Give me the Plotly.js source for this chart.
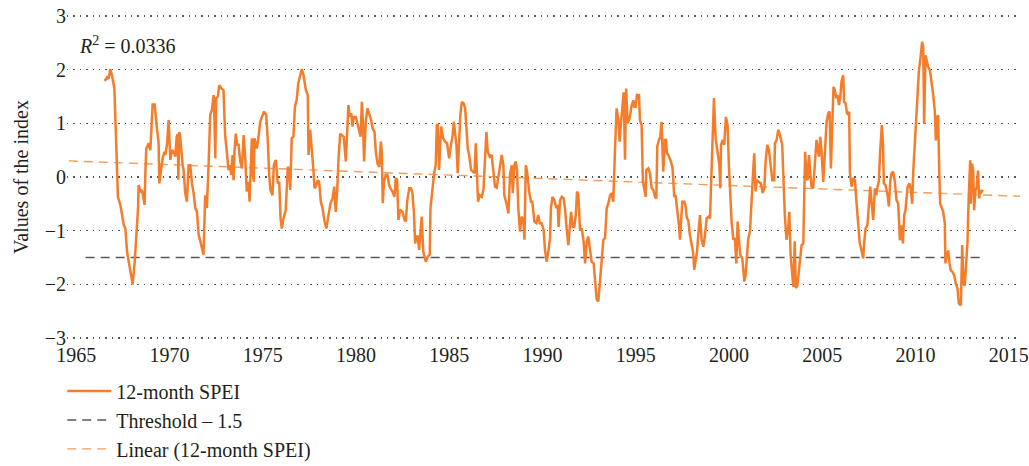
<!DOCTYPE html>
<html>
<head>
<meta charset="utf-8">
<script src="https://cdn.plot.ly/plotly-3.0.1.min.js"></script>
<style>html,body{margin:0;padding:0;background:#fff;}#chart{width:1029px;height:466px;}</style>
</head>
<body>
<div id="chart"></div>
<script>
// 12-month SPEI (decimal year, index value)
const speiYears = [
1966.52,1966.65,1966.73,1966.82,1966.91,1967.04,1967.13,1967.23,1967.36,1967.54,1967.63,1967.72,1967.81,1967.95,1968.02,1968.13,1968.25,1968.31,1968.34,1968.43,1968.52,1968.66,1968.70,1968.75,1968.88,1968.97,1969.09,1969.20,1969.32,1969.41,1969.45,1969.54,1969.63,1969.72,1969.77,1969.86,1969.95,1970.04,1970.13,1970.22,1970.31,1970.38,1970.44,1970.47,1970.52,1970.57,1970.63,1970.70,1970.75,1970.84,1970.93,1971.02,1971.11,1971.20,1971.29,1971.38,
1971.47,1971.56,1971.65,1971.73,1971.82,1971.91,1972.00,1972.09,1972.18,1972.27,1972.36,1972.41,1972.45,1972.50,1972.59,1972.66,1972.77,1972.89,1972.98,1973.07,1973.16,1973.25,1973.30,1973.38,1973.43,1973.48,1973.55,1973.63,1973.70,1973.79,1973.88,1973.97,1974.05,1974.14,1974.23,1974.29,1974.36,1974.41,1974.47,1974.52,1974.55,1974.68,1974.77,1974.86,1974.95,1975.07,1975.18,1975.27,1975.34,1975.41,1975.52,1975.59,1975.70,1975.77,1975.80,1975.88,1975.95,1976.02,1976.11,1976.23,1976.29,1976.34,1976.41,1976.47,1976.55,1976.64,1976.72,1976.82,1976.90,1977.00,
1977.09,1977.18,1977.31,1977.41,1977.45,1977.54,1977.63,1977.72,1977.77,1977.84,1977.95,1978.02,1978.11,1978.20,1978.31,1978.41,1978.52,1978.63,1978.74,1978.83,1978.91,1978.99,1979.06,1979.15,1979.24,1979.34,1979.45,1979.54,1979.59,1979.66,1979.74,1979.81,1979.88,1979.99,1980.09,1980.16,1980.24,1980.31,1980.36,1980.43,1980.52,1980.61,1980.70,1980.81,1980.88,1980.99,1981.06,1981.15,1981.24,1981.33,1981.38,1981.43,1981.50,1981.59,1981.68,1981.77,1981.84,1981.95,1982.06,1982.13,
1982.20,1982.27,1982.36,1982.49,1982.60,1982.67,1982.74,1982.85,1982.95,1983.02,1983.10,1983.17,1983.24,1983.31,1983.38,1983.45,1983.52,1983.60,1983.67,1983.74,1983.85,1983.95,1983.99,1984.06,1984.13,1984.20,1984.27,1984.33,1984.38,1984.45,1984.56,1984.67,1984.77,1984.88,1984.99,1985.09,1985.17,1985.24,1985.31,1985.38,1985.45,1985.52,1985.59,1985.67,1985.77,1985.85,1985.92,1985.99,1986.06,1986.17,1986.27,1986.35,1986.42,1986.49,1986.54,1986.63,1986.74,1986.83,1986.92,1986.99,1987.06,1987.17,1987.27,1987.36,1987.45,
1987.54,1987.63,1987.72,1987.81,1987.90,1987.95,1988.08,1988.17,1988.26,1988.35,1988.40,1988.49,1988.56,1988.63,1988.70,1988.79,1988.88,1988.97,1989.03,1989.10,1989.17,1989.28,1989.38,1989.45,1989.56,1989.67,1989.77,1989.85,1989.95,1990.06,1990.13,1990.22,1990.31,1990.40,1990.45,1990.53,1990.63,1990.74,1990.81,1990.86,1990.94,1991.03,1991.13,1991.20,1991.29,1991.38,1991.47,1991.53,1991.62,1991.70,1991.78,1991.85,1991.92,1992.01,1992.10,1992.20,1992.28,1992.37,1992.45,1992.54,1992.63,1992.74,1992.81,1992.90,1992.99,
1993.08,1993.17,1993.26,1993.35,1993.44,1993.53,1993.62,1993.71,1993.79,1993.88,1993.97,1994.06,1994.13,1994.21,1994.30,1994.35,1994.42,1994.48,1994.56,1994.67,1994.78,1994.87,1994.92,1994.99,1995.06,1995.17,1995.22,1995.31,1995.38,1995.46,1995.53,1995.56,1995.67,1995.76,1995.85,1995.94,1996.03,1996.10,1996.15,1996.24,1996.31,1996.38,1996.47,1996.56,1996.62,1996.67,1996.74,1996.85,1996.96,1997.01,1997.06,1997.13,1997.24,1997.31,1997.37,1997.42,1997.49,1997.60,1997.67,1997.74,1997.81,1997.90,1997.99,1998.08,1998.13,1998.21,1998.28,
1998.35,1998.44,1998.53,1998.62,1998.71,1998.80,1998.89,1998.98,1999.03,1999.10,1999.19,1999.28,1999.39,1999.48,1999.53,1999.57,1999.66,1999.74,1999.83,1999.92,1999.99,2000.07,2000.14,2000.23,2000.31,2000.39,2000.46,2000.53,2000.60,2000.71,2000.82,2000.89,2000.96,2001.03,2001.12,2001.21,2001.30,2001.35,2001.42,2001.49,2001.60,2001.71,2001.80,2001.89,2001.96,2002.05,2002.14,2002.23,2002.32,2002.42,2002.46,2002.55,2002.64,2002.73,2002.85,2002.92,2002.99,2003.08,2003.17,2003.23,2003.30,2003.39,2003.45,2003.52,2003.58,2003.66,2003.76,2003.89,2003.98,
2004.03,2004.08,2004.16,2004.21,2004.28,2004.35,2004.42,2004.51,2004.60,2004.69,2004.75,2004.82,2004.89,2004.96,2005.05,2005.14,2005.23,2005.32,2005.39,2005.46,2005.53,2005.60,2005.67,2005.75,2005.82,2005.89,2005.96,2006.03,2006.12,2006.17,2006.25,2006.32,2006.39,2006.44,2006.48,2006.57,2006.66,2006.75,2006.83,2006.92,2007.01,2007.10,2007.19,2007.25,2007.32,2007.42,2007.50,2007.57,2007.64,2007.73,2007.82,2007.89,2007.96,2008.03,2008.10,2008.19,2008.25,2008.30,2008.39,2008.50,2008.57,2008.64,2008.71,2008.80,2008.89,
2008.98,2009.07,2009.16,2009.25,2009.32,2009.39,2009.46,2009.57,2009.68,2009.75,2009.82,2009.87,2009.96,2010.05,2010.10,2010.18,2010.27,2010.35,2010.41,2010.46,2010.53,2010.60,2010.68,2010.77,2010.85,2010.94,2011.03,2011.09,2011.16,2011.21,2011.27,2011.32,2011.39,2011.48,2011.57,2011.60,2011.68,2011.75,2011.82,2011.89,2011.98,2012.07,2012.16,2012.25,2012.32,2012.43,2012.50,2012.57,2012.64,2012.71,2012.78,2012.85,2012.93,2012.96,2013.03,2013.09,2013.14,2013.21,2013.28,2013.35,2013.41,2013.46,2013.53,2013.60
];
const speiValues = [
1.79,1.86,1.83,2.01,1.90,1.65,0.72,-0.37,-0.52,-0.89,-0.96,-1.39,-1.58,-1.89,-2.00,-1.58,-1.02,-0.58,-0.15,-0.27,-0.24,-0.52,0.04,0.53,0.63,0.50,1.35,1.35,0.91,0.66,-0.12,0.16,0.35,0.47,0.41,0.60,1.06,0.32,0.50,0.47,0.38,0.75,0.80,-0.05,0.84,0.75,0.41,0.22,0.13,-0.30,-0.46,0.22,0.22,-0.12,-0.30,-0.58,
-0.65,-1.08,-1.20,-1.30,-1.45,-0.34,-0.58,0.22,1.16,1.25,1.53,1.03,0.35,1.47,1.50,1.71,1.65,1.62,0.78,0.47,0.13,0.22,0.04,0.41,-0.06,0.47,0.81,0.60,0.60,0.29,0.16,0.78,0.41,-0.27,-0.09,-0.46,0.41,0.72,0.04,-0.09,0.72,0.53,0.75,1.03,1.12,1.22,1.16,0.66,0.04,-0.24,-0.34,0.22,0.32,0.04,-0.12,-0.09,-0.77,-0.96,-0.77,-0.61,-0.15,0.19,0.13,-0.24,0.72,0.75,1.30,1.45,1.75,1.88,
2.01,1.90,1.62,1.53,0.41,0.88,0.53,0.10,-0.21,-0.18,-0.06,-0.09,-0.46,-0.58,-0.83,-0.96,-0.71,-0.49,-0.40,-0.18,-0.65,-0.24,0.35,0.81,0.78,0.75,0.29,1.00,1.34,1.12,1.19,0.94,1.12,1.12,0.97,0.88,0.75,1.40,1.09,0.29,1.03,1.28,1.19,1.06,0.91,0.84,0.47,0.25,0.19,0.66,0.47,-0.49,-0.09,0.04,0.04,-0.15,-0.21,-0.27,-0.37,-0.02,
-0.05,-0.80,-0.61,-0.65,-0.80,-0.83,-0.46,-0.21,-0.21,-0.30,-0.65,-1.24,-1.11,-1.11,-1.36,-1.08,-0.74,-1.39,-1.48,-1.58,-1.48,-1.45,-0.58,-0.40,-0.12,0.10,0.22,0.97,0.97,0.13,0.94,0.72,0.66,0.63,0.35,0.60,0.75,1.03,0.78,0.60,0.07,0.78,1.16,1.40,1.37,1.28,0.97,0.53,0.41,0.13,0.10,0.07,0.63,0.04,-0.46,-0.34,-0.37,-0.24,0.41,0.84,0.47,0.38,0.41,0.04,-0.18,
-0.20,0.01,0.22,0.41,0.22,-0.34,-0.52,-0.68,0.07,0.22,-0.30,0.22,0.29,0.13,-0.58,-1.02,-0.74,-0.83,-1.17,0.22,0.10,-0.27,-0.46,-0.46,-0.83,-0.86,-0.71,-0.86,-0.86,-0.99,-1.36,-1.58,-1.39,-1.14,-0.58,-0.37,-0.43,-0.58,-0.52,-0.93,-0.43,-0.37,-0.40,-0.58,-0.96,-1.27,-0.89,-0.65,-0.93,-0.93,-0.71,-0.27,-0.34,-0.99,-0.96,-1.20,-1.61,-1.20,-1.11,-1.39,-1.58,-1.61,-1.90,-2.28,-2.32,
-1.95,-1.58,-1.17,-1.14,-0.58,-0.49,-0.34,-0.30,-0.46,0.47,1.28,1.09,0.66,1.03,1.45,1.58,0.32,1.65,1.00,1.09,1.34,1.43,1.31,1.31,1.53,1.53,1.06,0.97,-0.09,-0.27,-0.37,0.13,0.16,0.07,-0.21,-0.24,-0.37,-0.40,0.57,0.69,0.75,1.03,0.10,0.69,0.69,0.44,0.41,0.32,0.19,-0.06,-0.37,-0.34,-0.65,-0.89,-1.17,-0.80,-0.46,-0.46,-0.55,-0.77,-0.80,-1.08,-1.24,-1.42,-1.73,-1.58,-1.40,
-1.08,-0.71,-1.17,-1.30,-1.08,-0.77,-0.74,-0.77,-0.21,0.53,1.47,0.72,0.41,0.22,-0.21,0.60,0.69,0.60,1.12,0.97,0.22,-0.46,-0.86,-1.17,-1.14,-1.61,-0.83,-1.17,-1.45,-1.52,-1.95,-1.83,-1.45,-1.14,-1.02,-0.27,0.16,0.44,-0.27,-0.06,-0.09,-0.12,-0.30,-0.21,0.29,0.60,0.50,0.16,-0.06,-0.06,0.63,0.69,0.88,0.78,0.60,-0.06,-0.71,-1.17,-0.96,-0.65,-1.45,-1.83,-2.05,-1.20,-2.07,-2.03,-1.70,-1.27,-1.24,
-0.09,0.47,-0.02,-0.06,0.41,0.10,-0.18,-0.21,0.35,0.69,0.53,0.38,0.75,0.47,-0.09,0.47,1.03,1.19,1.22,0.16,1.16,1.68,1.62,1.47,1.53,1.34,1.47,1.78,1.90,1.40,1.37,1.19,1.16,1.22,0.07,-0.18,-0.02,-0.06,-0.46,-0.83,-1.24,-1.36,-1.52,-1.20,-0.96,-0.89,-0.58,-0.18,-0.46,-0.80,-0.21,-0.34,-0.18,-0.09,0.47,0.97,0.66,-0.12,-0.15,-0.34,-0.55,-0.09,0.07,0.10,-0.09,
-0.43,-0.50,-1.18,-0.90,-1.24,-0.71,-0.62,-0.19,-0.12,-0.25,-0.50,0.06,0.75,1.18,1.49,1.99,2.24,2.52,2.42,0.99,2.27,2.17,2.05,1.99,1.80,1.55,1.24,0.68,1.12,1.15,0.12,-0.50,-0.56,-0.65,-0.87,-1.61,-1.46,-1.37,-1.61,-1.74,-1.77,-1.83,-1.99,-2.08,-2.36,-2.39,-1.27,-1.99,-2.02,-1.61,-1.24,-0.37,0.31,-0.50,0.25,0.12,-0.62,-0.25,-0.19,0.12,-0.40,-0.25,-0.28,-0.24
];
// Drought threshold line (start/end years, value)
const thresholdYears = [1965.5, 2013.6];
const thresholdValues = [-1.5, -1.5];
// Linear trend of the SPEI series (ends)
const trendYears = [1964.6, 2015.6];
const trendValues = [0.30, -0.36];
const rSquared = "0.0336";
// Axis ticks
const xTicks = [1965, 1970, 1975, 1980, 1985, 1990, 1995, 2000, 2005, 2010, 2015];
const yTicks = [-3, -2, -1, 0, 1, 2, 3];
const yTickText = ["\u22123", "\u22122", "\u22121", "0", "1", "2", "3"];

const FONT = "Liberation Serif, Times New Roman, serif";
const TXT = "#231f20";

const traces = [
  {x: thresholdYears, y: thresholdValues, type: "scatter", mode: "lines", name: "Threshold \u2013 1.5",
   line: {color: "#5a5a5a", width: 1.5, dash: "9px,6px"}, legendrank: 2, hoverinfo: "skip"},
  {x: trendYears, y: trendValues, type: "scatter", mode: "lines", name: "Linear (12-month SPEI)",
   line: {color: "#f59c5c", width: 1.4, dash: "9px,6px"}, legendrank: 3, hoverinfo: "skip"},
  {x: speiYears, y: speiValues, type: "scatter", mode: "lines", name: "12-month SPEI",
   line: {color: "#f47d2c", width: 2.5}, legendrank: 1}
];

const layout = {
  width: 1029, height: 466,
  margin: {l: 67, r: 9, t: 15, b: 127},
  paper_bgcolor: "#fff", plot_bgcolor: "#fff",
  font: {family: FONT, size: 20, color: TXT},
  showlegend: true,
  legend: {orientation: "v", xref: "paper", yref: "container", x: -0.005, xanchor: "left", y: 0.203, yanchor: "top",
           font: {family: FONT, size: 20, color: TXT}, tracegroupgap: 0, itemwidth: 44,
           bgcolor: "rgba(0,0,0,0)"},
  xaxis: {range: [1964.5, 2015.6], tickvals: xTicks, ticktext: xTicks.map(String),
          showgrid: false, zeroline: false, showline: false, ticks: "", ticklabelstandoff: 2,
          tickfont: {family: FONT, size: 20, color: TXT}},
  yaxis: {range: [-3.02, 3.02], tickvals: yTicks, ticktext: yTickText,
          showgrid: true, gridcolor: "#555", gridwidth: 1.4, griddash: "1.4px,5px",
          zeroline: false, showline: false, ticks: "",
          tickfont: {family: FONT, size: 20, color: TXT},
          title: {text: "Values of the index", font: {family: FONT, size: 20, color: TXT}, standoff: 10}},
  annotations: [{xref: "x", yref: "y", x: 1965.05, y: 2.46, xanchor: "left", yanchor: "middle",
                 text: "<i>R</i><sup>2</sup> = " + rSquared, showarrow: false,
                 font: {family: FONT, size: 20, color: TXT}}]
};

Plotly.newPlot("chart", traces, layout, {displayModeBar: false, staticPlot: true});
</script>
</body>
</html>
